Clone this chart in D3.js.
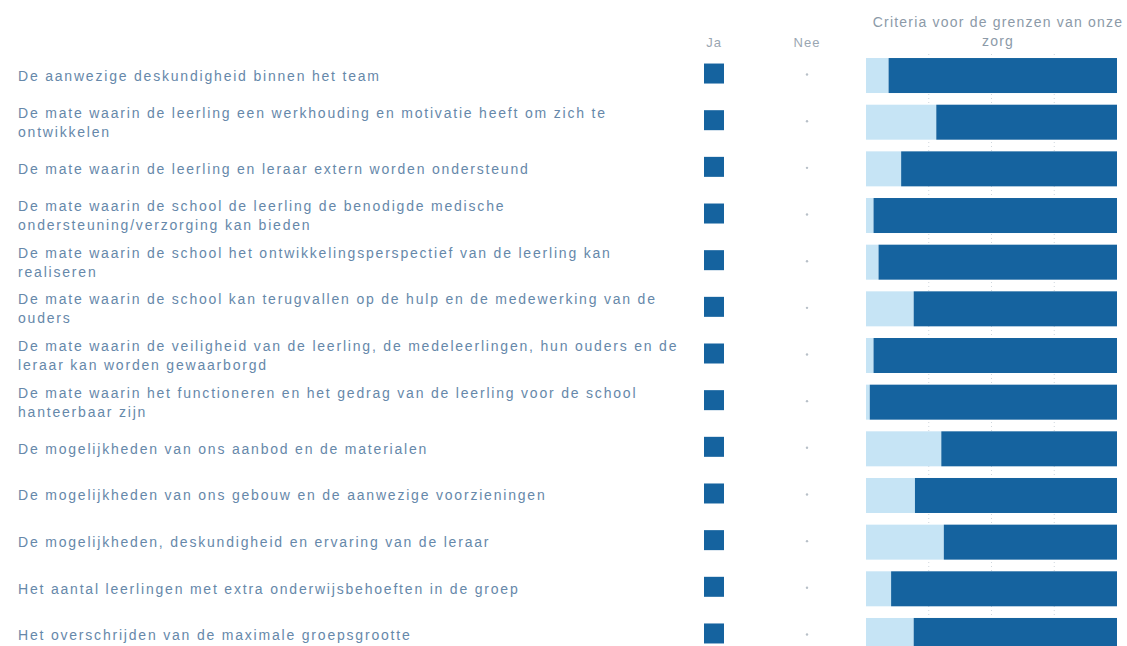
<!DOCTYPE html>
<html>
<head>
<meta charset="utf-8">
<script src="https://cdn.jsdelivr.net/npm/d3@7"></script>
<style>
  body { margin: 0; background: #fff; }
  svg { display: block; font-family: "Liberation Sans", Arial, sans-serif; }
</style>
</head>
<body>
<svg width="1127" height="646"></svg>
<script>
// criteria (rijen)
const criteria = [
    "De aanwezige deskundigheid binnen het team",
    "De mate waarin de leerling een werkhouding en motivatie heeft om zich te ontwikkelen",
    "De mate waarin de leerling en leraar extern worden ondersteund",
    "De mate waarin de school de leerling de benodigde medische ondersteuning/verzorging kan bieden",
    "De mate waarin de school het ontwikkelingsperspectief van de leerling kan realiseren",
    "De mate waarin de school kan terugvallen op de hulp en de medewerking van de ouders",
    "De mate waarin de veiligheid van de leerling, de medeleerlingen, hun ouders en de leraar kan worden gewaarborgd",
    "De mate waarin het functioneren en het gedrag van de leerling voor de school hanteerbaar zijn",
    "De mogelijkheden van ons aanbod en de materialen",
    "De mogelijkheden van ons gebouw en de aanwezige voorzieningen",
    "De mogelijkheden, deskundigheid en ervaring van de leraar",
    "Het aantal leerlingen met extra onderwijsbehoeften in de groep",
    "Het overschrijden van de maximale groepsgrootte"
]

// Ja / Nee kolommen
const ja = [1, 1, 1, 1, 1, 1, 1, 1, 1, 1, 1, 1, 1]
const nee = [0, 0, 0, 0, 0, 0, 0, 0, 0, 0, 0, 0, 0]

// gestapelde balk (percentages)
const licht = [9, 28, 14, 3, 5, 19, 3, 1.5, 30, 19.5, 31, 10, 19]
const donker = licht.map(v => 100 - v)

const headerJa = "Ja"
const headerNee = "Nee"
const titel = ["Criteria voor de grenzen van onze", "zorg"]
const ticks = [0, 25, 50, 75, 100]

const textColor = "#6688aa"
const darkBlue = "#15639f"
const lightBlue = "#c6e4f5"

const svg = d3.select("svg")

// schalen
const y = d3.scaleBand()
    .domain(criteria)
    .range([52.2, 658.8])
    .paddingInner(0.25)
    .paddingOuter(0.125)

const x = d3.scaleLinear()
    .domain([0, 100])
    .range([866, 1117])

const col = d3.scalePoint()
    .domain(["ja", "nee"])
    .range([714, 807])

// rasterlijnen
svg.append("g")
    .selectAll("line")
    .data(ticks.slice(1, 4))
    .enter()
    .append("line")
    .attr("x1", d => x(d)).attr("x2", d => x(d))
    .attr("y1", 54).attr("y2", 646)
    .attr("stroke", "#cfd6dc")
    .attr("stroke-dasharray", "1,3")

// koppen
svg.append("text")
    .attr("x", col("ja")).attr("y", 47)
    .attr("text-anchor", "middle")
    .attr("font-size", 13).attr("letter-spacing", "1px").attr("fill", "#9aa6b2")
    .text(headerJa)

svg.append("text")
    .attr("x", col("nee")).attr("y", 47)
    .attr("text-anchor", "middle")
    .attr("font-size", 13).attr("letter-spacing", "1px").attr("fill", "#9aa6b2")
    .text(headerNee)

svg.append("text")
    .attr("text-anchor", "middle")
    .attr("font-size", 14).attr("letter-spacing", "1.2px").attr("fill", "#8c9aa8")
    .selectAll("tspan")
    .data(titel)
    .enter()
    .append("tspan")
    .attr("x", 998)
    .attr("y", (d, i) => 27 + i * 19)
    .text(d => d)

// labels met woordafbreking
const maxWidth = 667
const labels = svg.append("g")
    .selectAll("text")
    .data(criteria)
    .enter()
    .append("text")
    .attr("x", 18)
    .attr("font-size", 14)
    .attr("letter-spacing", "1.8px")
    .attr("fill", textColor)

labels.each(function (d) {
    const t = d3.select(this)
    const words = d.split(" ")
    let lines = []
    let line = []
    const probe = t.append("tspan")
    words.forEach(w => {
        line.push(w)
        probe.text(line.join(" "))
        if (probe.node().getComputedTextLength() > maxWidth && line.length > 1) {
            line.pop()
            lines.push(line.join(" "))
            line = [w]
        }
    })
    lines.push(line.join(" "))
    probe.remove()
    const cy = y(d) + y.bandwidth() / 2
    const lh = 19
    const y0 = cy - (lines.length - 1) * lh / 2 + 5
    lines.forEach((l, i) => {
        t.append("tspan").attr("x", 18).attr("y", y0 + i * lh).text(l)
    })
})

// Ja blokjes
svg.append("g")
    .selectAll("rect")
    .data(criteria.filter((d, i) => ja[i] > 0))
    .enter()
    .append("rect")
    .attr("x", col("ja") - 10)
    .attr("y", d => y(d) + y.bandwidth() / 2 - 12)
    .attr("width", 20).attr("height", 20)
    .attr("fill", darkBlue)

// Nee stipjes
svg.append("g")
    .selectAll("circle")
    .data(criteria)
    .enter()
    .append("circle")
    .attr("cx", col("nee"))
    .attr("cy", d => y(d) + y.bandwidth() / 2 - 1)
    .attr("r", (d, i) => nee[i] > 0 ? 10 : 1.2)
    .attr("fill", "#b8c0c8")

// gestapelde balken
const stackData = criteria.map((c, i) => ({ c: c, licht: licht[i], donker: donker[i] }))
const series = d3.stack().keys(["licht", "donker"])(stackData)
const kleur = d3.scaleOrdinal().domain(["licht", "donker"]).range([lightBlue, darkBlue])

svg.append("g")
    .selectAll("g")
    .data(series)
    .enter()
    .append("g")
    .attr("fill", d => kleur(d.key))
    .selectAll("rect")
    .data(d => d)
    .enter()
    .append("rect")
    .attr("x", d => x(d[0]))
    .attr("y", d => y(d.data.c))
    .attr("width", d => x(d[1]) - x(d[0]))
    .attr("height", y.bandwidth())
</script>
</body>
</html>
